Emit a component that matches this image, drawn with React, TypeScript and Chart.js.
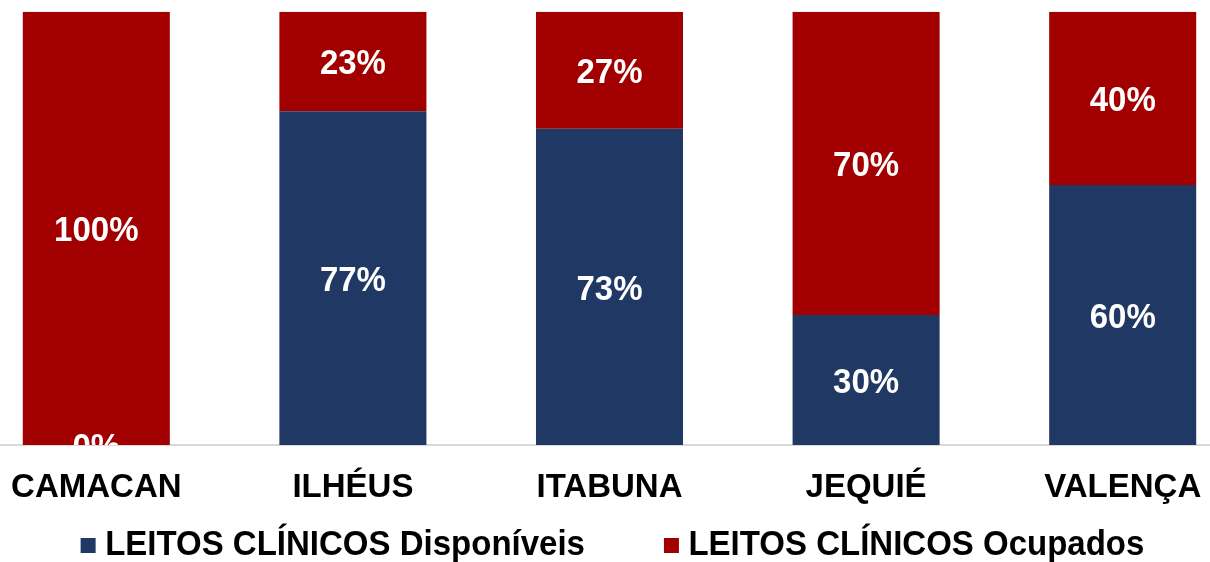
import React, { useEffect, useRef } from "react";
import { Chart, registerables } from "chart.js";

Chart.register(...registerables);

const categories = ["CAMACAN", "ILHÉUS", "ITABUNA", "JEQUIÉ", "VALENÇA"];
const disponiveis = [0, 77, 73, 30, 60];
const ocupados = [100, 23, 27, 70, 40];
const seriesNames = ["LEITOS CLÍNICOS Disponíveis", "LEITOS CLÍNICOS Ocupados"];
const seriesColors = ["#203864", "#A20000"];

const FONT = '"Liberation Sans", Arial, sans-serif';
const FONT_SIZE = 33;
const STRETCH = 1.08;

function stretchedText(ctx: any, text: string, x: number, y: number) {
  ctx.save();
  ctx.translate(x, y);
  ctx.scale(1, STRETCH);
  ctx.fillText(text, 0, 0);
  ctx.restore();
}

const valueLabels = {
  id: "valueLabels",
  afterDatasetsDraw(chart: any) {
    const { ctx, chartArea } = chart;
    ctx.save();
    ctx.beginPath();
    ctx.rect(
      chartArea.left,
      chartArea.top,
      chartArea.right - chartArea.left,
      chartArea.bottom - chartArea.top
    );
    ctx.clip();
    ctx.font = `bold ${FONT_SIZE}px ${FONT}`;
    ctx.fillStyle = "#ffffff";
    ctx.textAlign = "center";
    ctx.textBaseline = "middle";
    chart.data.datasets.forEach((ds: any, di: number) => {
      const meta = chart.getDatasetMeta(di);
      meta.data.forEach((el: any, i: number) => {
        const { x, y, base } = el.getProps(["x", "y", "base"], true);
        stretchedText(ctx, `${ds.data[i]}%`, x, (y + base) / 2 + 3);
      });
    });
    ctx.restore();
  },
};

const customLegend = {
  id: "customLegend",
  afterDraw(chart: any) {
    const { ctx } = chart;
    ctx.save();
    ctx.font = `bold ${FONT_SIZE}px ${FONT}`;
    const box = 15;
    const gapText = 9.5;
    const gapItem = 79;
    const widths = seriesNames.map((t) => ctx.measureText(t).width);
    const total =
      widths.reduce((s: number, w: number) => s + box + gapText + w, 0) + gapItem;
    let x = (chart.width - total) / 2 + 3;
    const yc = chart.height - 16.5;
    ctx.textBaseline = "middle";
    ctx.textAlign = "left";
    seriesNames.forEach((t, i) => {
      ctx.fillStyle = seriesColors[i];
      ctx.fillRect(x, yc - box / 2, box, box);
      ctx.fillStyle = "#000000";
      stretchedText(ctx, t, x + box + gapText, yc);
      x += box + gapText + widths[i] + gapItem;
    });
    ctx.restore();
  },
};

export default function App() {
  const canvasRef = useRef<HTMLCanvasElement | null>(null);

  useEffect(() => {
    const canvas = canvasRef.current;
    if (!canvas) return;
    const chart = new Chart(canvas, {
      type: "bar",
      data: {
        labels: categories,
        datasets: [
          {
            label: seriesNames[0],
            data: disponiveis,
            backgroundColor: seriesColors[0],
            borderWidth: 0,
            barPercentage: 0.573,
            categoryPercentage: 1,
          },
          {
            label: seriesNames[1],
            data: ocupados,
            backgroundColor: seriesColors[1],
            borderWidth: 0,
            barPercentage: 0.573,
            categoryPercentage: 1,
          },
        ],
      },
      options: {
        responsive: false,
        animation: false,
        devicePixelRatio: 1,
        layout: { padding: { top: 11.7, bottom: 31.4, left: 0, right: 0 } },
        plugins: {
          legend: { display: false },
          tooltip: { enabled: false },
        },
        scales: {
          x: {
            stacked: true,
            grid: { display: false, drawTicks: false },
            border: { display: true, color: "#d9d9d9", width: 2 },
            ticks: {
              color: "#000000",
              font: { family: FONT, size: FONT_SIZE, weight: "bold", lineHeight: 1.2 },
              padding: 23,
              maxRotation: 0,
              autoSkip: false,
            },
          },
          y: {
            stacked: true,
            display: false,
            min: 0,
            max: 100,
          },
        },
      },
      plugins: [valueLabels, customLegend],
    } as any);
    return () => {
      chart.destroy();
    };
  }, []);

  return (
    <div
      style={{
        position: "fixed",
        left: 0,
        top: 0,
        width: 1210,
        height: 562,
        overflow: "hidden",
        background: "#ffffff",
      }}
    >
      <canvas
        ref={canvasRef}
        width={1283}
        height={562}
        style={{ position: "absolute", left: -32, top: 0, width: 1283, height: 562 }}
      />
    </div>
  );
}
